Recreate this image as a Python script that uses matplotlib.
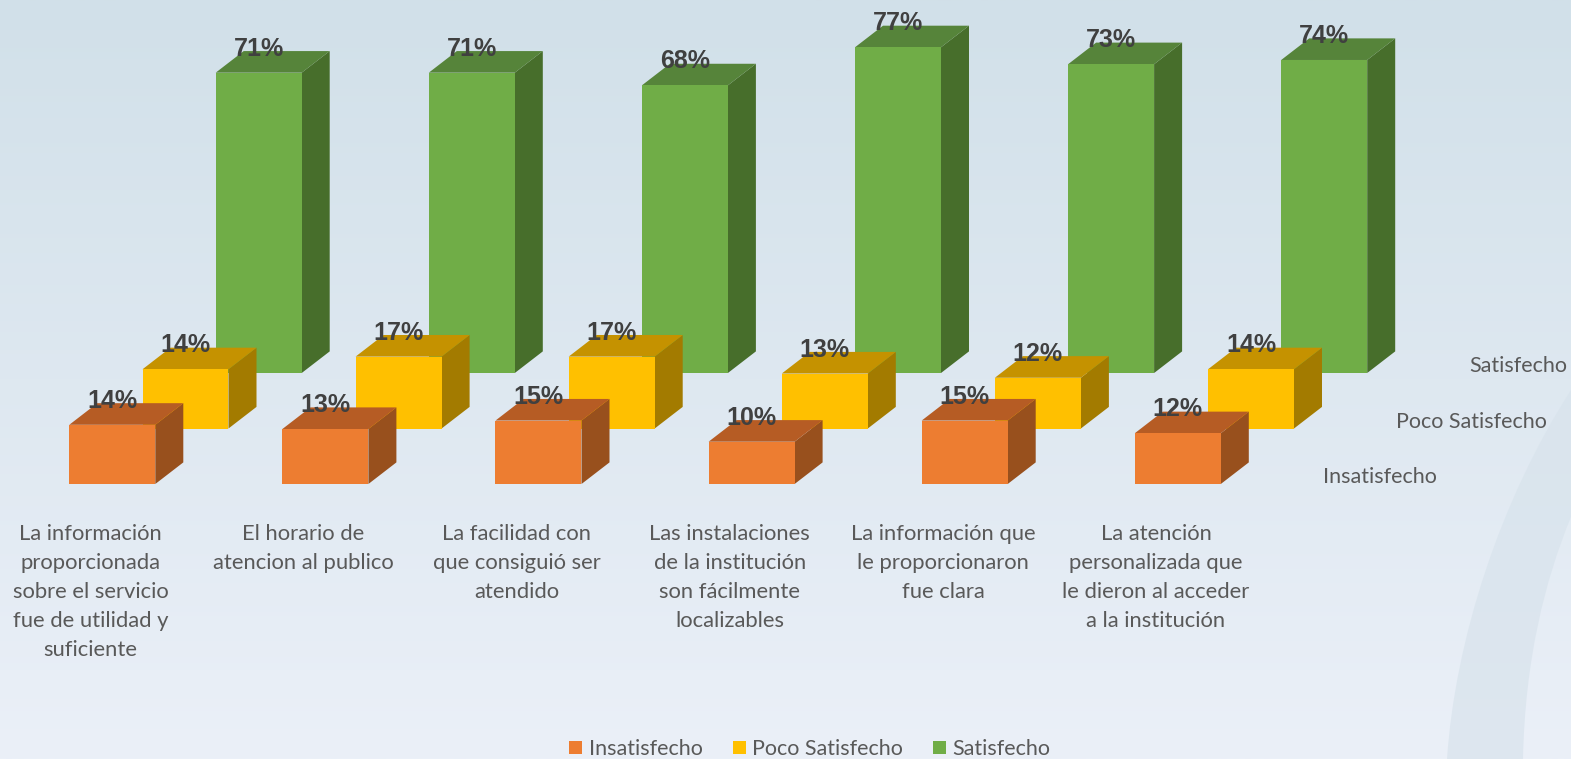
import matplotlib
matplotlib.use("Agg")
import matplotlib.pyplot as plt
import numpy as np
from matplotlib.patches import Polygon, Patch, PathPatch
from matplotlib.path import Path

# ---------------- data ----------------
categories = [
    "La información\nproporcionada\nsobre el servicio\nfue de utilidad y\nsuficiente",
    "El horario de\natencion al publico",
    "La facilidad con\nque consiguió ser\natendido",
    "Las instalaciones\nde la institución\nson fácilmente\nlocalizables",
    "La información que\nle proporcionaron\nfue clara",
    "La atención\npersonalizada que\nle dieron al acceder\na la institución",
]
series_names = ["Insatisfecho", "Poco Satisfecho", "Satisfecho"]
insatisfecho = [14, 13, 15, 10, 15, 12]
poco_satisfecho = [14, 17, 17, 13, 12, 14]
satisfecho = [71, 71, 68, 77, 73, 74]
series_values = [insatisfecho, poco_satisfecho, satisfecho]

# ---------------- style ----------------
front_colors = ["#ED7D31", "#FFC000", "#70AD47"]
top_colors = ["#B65C24", "#C59200", "#56843A"]
side_colors = ["#98501D", "#A37B00", "#476E2B"]
label_color = "#595959"
value_color = "#404040"

W, H = 1571, 759
fig = plt.figure(figsize=(W / 100, H / 100), dpi=100)

# background gradient
bg = fig.add_axes([0, 0, 1, 1], zorder=-5)
bg.set_axis_off()
c_top = np.array([0xD1, 0xE0, 0xE9]) / 255
c_bot = np.array([0xEB, 0xF0, 0xF8]) / 255
t = np.linspace(0, 1, 256)[:, None]
grad = (c_top[None, :] * (1 - t) + c_bot[None, :] * t)[:, None, :]
bg.imshow(grad, aspect="auto", extent=(0, W, H, 0), origin="upper")
bg.set_xlim(0, W)
bg.set_ylim(H, 0)
# faint decorative arc at bottom right (pixel coords, y down)
verts = [(1447, 759), (1455, 640), (1500, 500), (1571, 390),
         (1571, 517), (1545, 580), (1525, 660), (1523, 759), (1447, 759)]
codes = [Path.MOVETO, Path.CURVE4, Path.CURVE4, Path.CURVE4,
         Path.LINETO, Path.CURVE4, Path.CURVE4, Path.CURVE4, Path.CLOSEPOLY]
bg.add_patch(PathPatch(Path(verts, codes), facecolor="#d8e3ec", edgecolor="none", alpha=0.7))

# main axes: x in category units, y in percent units
ax = fig.add_axes([0, 0, 1, 1])
ax.set_axis_off()
spacing_px = 213.1
x0_px = 69.3
px_per_pct = 4.23
base_px = 275.0  # from bottom
ax.set_xlim(-x0_px / spacing_px, (W - x0_px) / spacing_px)
ax.set_ylim(-base_px / px_per_pct, (H - base_px) / px_per_pct)

bar_w = 86 / spacing_px
row_dx = 73.2 / spacing_px
row_dy = 55.5 / px_per_pct
dep_dx = 28 / spacing_px
dep_dy = 21.6 / px_per_pct

for r in [2, 1, 0]:
    vals = series_values[r]
    for i, v in enumerate(vals):
        x = i + r * row_dx
        y = r * row_dy
        z = 10 - r
        front = [(x, y), (x + bar_w, y), (x + bar_w, y + v), (x, y + v)]
        top = [(x, y + v), (x + bar_w, y + v), (x + bar_w + dep_dx, y + v + dep_dy),
               (x + dep_dx, y + v + dep_dy)]
        side = [(x + bar_w, y), (x + bar_w + dep_dx, y + dep_dy),
                (x + bar_w + dep_dx, y + v + dep_dy), (x + bar_w, y + v)]
        ax.add_patch(Polygon(side, closed=True, facecolor=side_colors[r], edgecolor="none", zorder=z))
        ax.add_patch(Polygon(top, closed=True, facecolor=top_colors[r], edgecolor="none", zorder=z))
        ax.add_patch(Polygon(front, closed=True, facecolor=front_colors[r], edgecolor="none", zorder=z))
        ax.text(x + bar_w / 2, y + v + dep_dy - 1.1, f"{v}%", ha="center", va="baseline",
                fontsize=18, fontweight="bold", family="Liberation Sans",
                color=value_color, zorder=20)

# category labels
for i, c in enumerate(categories):
    ax.text(i + 0.0995, -9.4, c, ha="center", va="top", fontsize=15.8,
            family="Lato", color=label_color, linespacing=1.56, zorder=20)

# series (depth axis) labels
for r, name in enumerate(series_names):
    ax.text((1323 - x0_px) / spacing_px + r * row_dx, r * row_dy + 0.2, name,
            ha="left", va="baseline", fontsize=15.5, family="Lato",
            color=label_color, zorder=20)

handles = [Patch(facecolor=front_colors[k], edgecolor="none", label=series_names[k]) for k in range(3)]
leg = fig.legend(handles=handles, loc="center", bbox_to_anchor=(810 / W, 1 - 749 / H),
                 ncol=3, frameon=False, handlelength=0.6, handleheight=0.6,
                 handletextpad=0.3, columnspacing=1.4,
                 prop={"family": "Lato", "size": 15.5})
for txt in leg.get_texts():
    txt.set_color(label_color)

fig.savefig("out.png", dpi=100)
